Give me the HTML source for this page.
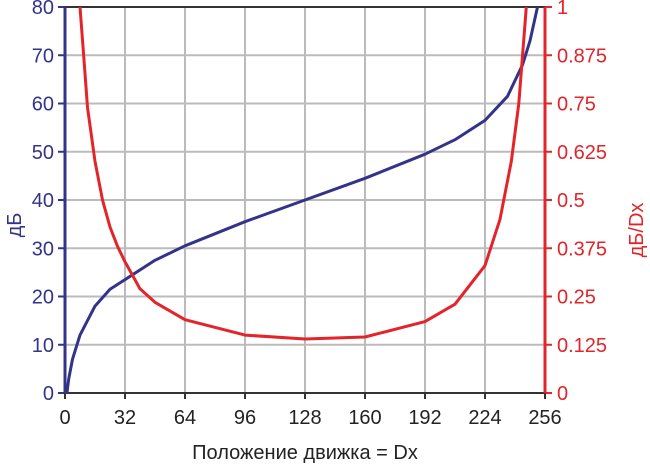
<!DOCTYPE html>
<html><head><meta charset="utf-8"><style>
body{margin:0;background:#fff}
svg{display:block;font-family:"Liberation Sans",sans-serif}
</style></head><body>
<svg id="c" width="650" height="467"></svg>
<script>
const xTicks=[0,32,64,96,128,160,192,224,256];
const yTicks=[0,10,20,30,40,50,60,70,80];
const y2Ticks=["0","0.125","0.25","0.375","0.5","0.625","0.75","0.875","1"];
const dbX=[1,2,4,8,16,24,32,48,64,96,128,160,192,208,224,236,244,248,252];
const dbY=[0,3,7,12,18,21.5,23.5,27.5,30.5,35.5,40,44.5,49.5,52.5,56.5,61.5,68,73,80];
const dX=[8,10,12,16,20,24,28,32,40,48,64,96,128,160,192,208,224,232,238,242,246];
const dY=[1,0.87,0.74,0.6,0.5,0.43,0.38,0.34,0.27,0.235,0.19,0.15,0.14,0.145,0.185,0.23,0.33,0.45,0.6,0.75,1];
const X0=65,X1=545,Y0=393,Y1=7;
const sx=v=>X0+(v/256)*(X1-X0);
const sy=v=>Y0-(v/80)*(Y0-Y1);
const sy2=v=>Y0-v*(Y0-Y1);
const NS="http://www.w3.org/2000/svg";
const svgEl=document.getElementById('c');
function mk(t,a,txt){const e=document.createElementNS(NS,t);for(const k in a)e.setAttribute(k,a[k]);if(txt!==undefined)e.textContent=String(txt);svgEl.appendChild(e);return e;}
xTicks.forEach((v,i)=>{if(i>0&&i<8){const g=mk('line',{x1:sx(v),x2:sx(v),y1:Y1,y2:Y0,stroke:'#bbb','stroke-width':2});

}
const t=mk('text',{x:sx(v),y:Y0+31,'text-anchor':'middle','font-size':20,fill:'#222'},v);

});
yTicks.forEach((v,i)=>{if(i>0&&i<8){const g=mk('line',{x1:X0,x2:X1,y1:sy(v),y2:sy(v),stroke:'#bbb','stroke-width':2});

}
mk('line',{x1:X0-7,x2:X0,y1:sy(v),y2:sy(v),stroke:'#33338a','stroke-width':2});
const t=mk('text',{x:X0-11,y:sy(v)+7,'text-anchor':'end','font-size':20,fill:'#33338a'},v);

});
y2Ticks.forEach((s,i)=>{const y=sy2(i/8);
mk('line',{x1:X1,x2:X1+7,y1:y,y2:y,stroke:'#e3242b','stroke-width':2});
const t=mk('text',{x:X1+12,y:y+7,'font-size':20,fill:'#e3242b'},s);

});
const topBorder=mk('line',{x1:X0,x2:X1,y1:Y1,y2:Y1,stroke:'#333','stroke-width':2});


const bot=mk('line',{x1:X0,x2:X1,y1:Y0,y2:Y0,stroke:'#333','stroke-width':2});


xTicks.forEach(v=>mk('line',{x1:sx(v),x2:sx(v),y1:Y0,y2:Y0+6,stroke:'#333','stroke-width':2}));
const la=mk('line',{x1:X0,x2:X0,y1:Y1,y2:Y0,stroke:'#33338a','stroke-width':3});


const ra=mk('line',{x1:X1,x2:X1,y1:Y1,y2:Y0,stroke:'#e3242b','stroke-width':3});


function path(xs,ys,f){let d='';for(let i=0;i<xs.length;i++){d+=(i?'L':'M')+sx(xs[i]).toFixed(1)+','+f(ys[i]).toFixed(1);}return d;}
const p1=mk('path',{d:path(dbX,dbY,sy),fill:'none',stroke:'#33338a','stroke-width':3,'stroke-linejoin':'round'});


const p2=mk('path',{d:path(dX,dY,sy2),fill:'none',stroke:'#e3242b','stroke-width':3,'stroke-linejoin':'round'});


const xt=mk('text',{x:305,y:459,'text-anchor':'middle','font-size':20,fill:'#222'},'Положение движка = Dx');


const yt=mk('text',{x:0,y:0,'text-anchor':'middle','font-size':20,fill:'#33338a',transform:'translate(21,225) rotate(-90)'},'дБ');


const y2t=mk('text',{x:0,y:0,'text-anchor':'middle','font-size':20,fill:'#e3242b',transform:'translate(643,230) rotate(-90)'},'дБ/Dx');


</script>
</body></html>
